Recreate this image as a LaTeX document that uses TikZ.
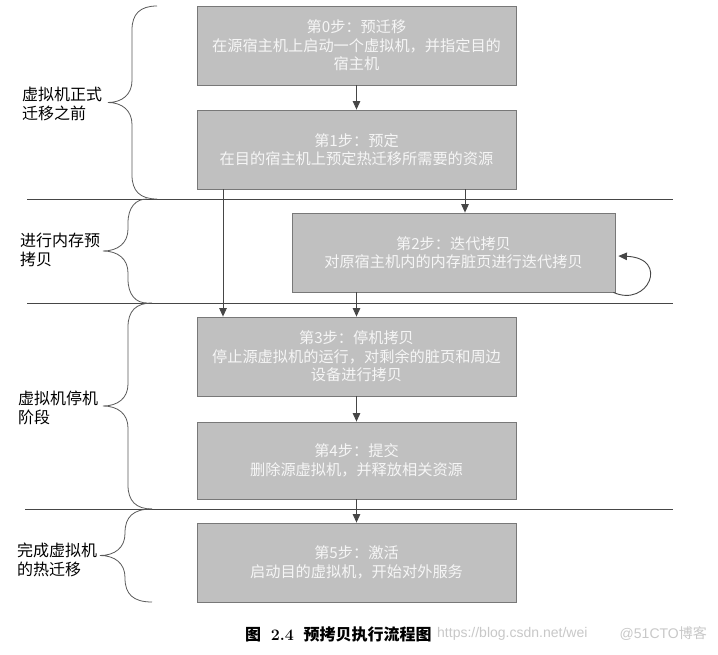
\documentclass[tikz,border=0pt]{standalone}
\usepackage{fontspec}
\usetikzlibrary{arrows.meta}
\newfontfamily\cjk{Noto Sans CJK SC}
\newfontfamily\wmfont{Liberation Sans}
\definecolor{boxfill}{RGB}{192,192,192}
\definecolor{boxdraw}{RGB}{120,120,120}
\definecolor{boxtext}{RGB}{246,246,246}
\definecolor{linecol}{RGB}{70,70,70}
\definecolor{bracecol}{RGB}{90,90,90}
\definecolor{wmcol}{RGB}{200,200,200}
\newcommand{\mybrace}[5]{%
  \pgfmathsetmacro\ym{(#2+#3)/2}%
  \draw[brace] (#1,#2) .. controls ({#4+8},#2) and (#4,{#2+8}) .. (#4,{#2+24})
    -- (#4,{\ym-22}) .. controls (#4,{\ym-8}) and ({#4-10},\ym) .. (#5,\ym)
    .. controls ({#4-10},\ym) and (#4,{\ym+8}) .. (#4,{\ym+22})
    -- (#4,{#3-24}) .. controls (#4,{#3-8}) and ({#4+8},#3) .. (#1,#3);}
\begin{document}
\begin{tikzpicture}[x=1pt,y=-1pt,
  stepbox/.style={draw=boxdraw, line width=0.8pt, fill=boxfill, text=boxtext,
    font=\cjk\fontsize{15.2}{18.5}\selectfont, align=center, inner sep=0pt,
    minimum width=319pt, minimum height=79pt},
  conn/.style={draw=linecol, line width=0.9pt, -{Triangle[length=8.5pt,width=7.5pt]}},
  sep/.style={draw=linecol, line width=0.8pt},
  brace/.style={draw=bracecol, line width=0.8pt},
  lab/.style={anchor=west, align=left, font=\cjk\fontsize{16}{19.5}\selectfont, inner sep=0pt}]
\useasboundingbox (0,0) rectangle (718,655);
\fill[white] (0,0) rectangle (718,655);

% separator lines
\coordinate (l1a) at (27,199); \coordinate (l1b) at (673,199);
\coordinate (l2a) at (27,303); \coordinate (l2b) at (673,303);
\coordinate (l3a) at (25,509); \coordinate (l3b) at (673,509);
\draw[sep] (l1a) -- (l1b);
\draw[sep] (l2a) -- (l2b);
\draw[sep] (l3a) -- (l3b);

% boxes
\node[stepbox] (s0) at (356.5,45.5) {第0步：预迁移\\在源宿主机上启动一个虚拟机，并指定目的\\宿主机};
\node[stepbox] (s1) at (356.5,149.5) {第1步：预定\\在目的宿主机上预定热迁移所需要的资源};
\node[stepbox, minimum width=323pt] (s2) at (453.5,252.5) {第2步：迭代拷贝\\对原宿主机内的内存脏页进行迭代拷贝};
\node[stepbox] (s3) at (356.5,356.5) {第3步：停机拷贝\\停止源虚拟机的运行，对剩余的脏页和周边\\设备进行拷贝};
\node[stepbox, minimum height=77pt] (s4) at (356.5,460.5) {第4步：提交\\删除源虚拟机，并释放相关资源};
\node[stepbox] (s5) at (356.5,562.5) {第5步：激活\\启动目的虚拟机，开始对外服务};

% connectors
\draw[conn] (s0) -- (s1);
\draw[conn] ([xshift=-133.5pt]s1.south) -- ([xshift=-133.5pt]s3.north);
\draw[conn] ([xshift=108.5pt]s1.south) -- ([xshift=108.5pt]s1.south |- s2.north);
\draw[conn] (s2.south -| s3.north) -- (s3.north);
\draw[conn] (s3) -- (s4);
\draw[conn] (s4) -- (s5);
\draw[conn] ([xshift=-2pt]s2.south east) .. controls (648,308) and (670,258) .. ([xshift=3pt,yshift=-3.5pt]s2.east);

% braces
\mybrace{157}{6}{199}{132}{108}
\mybrace{147}{199}{303}{128}{103}
\mybrace{152}{303}{509}{128}{103}
\mybrace{152}{509}{602}{125}{100}

% labels
\node[lab] (g1) at (22,104) {虚拟机正式\\迁移之前};
\node[lab] (g2) at (20,250) {进行内存预\\拷贝};
\node[lab] (g3) at (18,408) {虚拟机停机\\阶段};
\node[lab] (g4) at (17,560) {完成虚拟机\\的热迁移};

% caption
\node[anchor=west, inner sep=0pt, font=\fontsize{16}{18}\selectfont] (cap) at (245,634)
  {{\cjk\bfseries 图}\ \ \textbf{2.4}\ \ {\cjk\bfseries 预拷贝执行流程图}};
\node[anchor=west, inner sep=0pt, text=wmcol, font=\wmfont\fontsize{14}{16}\selectfont] (wm1) at (437,634) {https://blog.csdn.net/wei};
\node[anchor=east, inner sep=0pt, text=wmcol, font=\wmfont\fontsize{14}{16}\selectfont] (wm2) at (707,634) {@51CTO{\cjk 博客}};
\end{tikzpicture}
\end{document}
